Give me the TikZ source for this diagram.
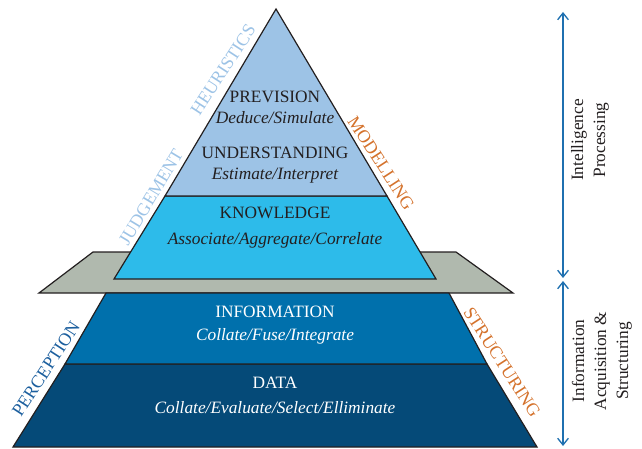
\documentclass[tikz,border=0pt]{standalone}
\usepackage{fontspec}
\setmainfont{Liberation Serif}
\usetikzlibrary{arrows.meta}
\definecolor{pvblue}{HTML}{9DC3E6}
\definecolor{knblue}{HTML}{2DBBEA}
\definecolor{inblue}{HTML}{0070AC}
\definecolor{dablue}{HTML}{054A78}
\definecolor{platgray}{HTML}{B0B9AE}
\definecolor{orangelbl}{HTML}{D4722C}
\definecolor{perblue}{HTML}{1C5F9E}
\definecolor{arrblue}{HTML}{1F70B0}
\definecolor{darktxt}{HTML}{231F20}
\tikzset{
  layer/.style={draw=darktxt, line width=0.9pt, line join=miter},
  title/.style={font=\fontsize{13}{15}\selectfont, inner sep=0pt},
  sub/.style={font=\fontsize{13}{15}\selectfont\itshape, inner sep=0pt},
  side/.style={font=\fontsize{13.5}{15}\selectfont, inner sep=0pt},
  vtext/.style={font=\fontsize{13}{16.5}\selectfont, align=center, rotate=90, inner sep=0pt},
  darrow/.style={draw=arrblue, line width=1pt, {Straight Barb[length=5pt,width=8pt]}-{Straight Barb[length=5pt,width=8pt]}}
}
\begin{document}
\begin{tikzpicture}[x=0.75pt, y=-0.75pt]
\useasboundingbox (0,0) rectangle (642,449);
% platform
\fill[platgray, draw=darktxt, line width=0.9pt] (39,293) -- (513,293) -- (456,252) -- (93,252) -- cycle;
% lower pyramid
\filldraw[dablue, layer] (65,364) -- (487,364) -- (537,447) -- (13,447) -- cycle;
\filldraw[inblue, layer] (106,293) -- (449,293) -- (487,364) -- (65,364) -- cycle;
% upper pyramid
\filldraw[knblue, layer] (165,196) -- (387,196) -- (436,279) -- (114,279) -- cycle;
\filldraw[pvblue, layer] (276,9) -- (387,196) -- (165,196) -- cycle;
% layer labels
\node[title, text=darktxt] (prev) at (275,97) {PREVISION};
\node[sub, text=darktxt] (prevs) at (275,118) {Deduce/Simulate};
\node[title, text=darktxt] (und) at (275,153) {UNDERSTANDING};
\node[sub, text=darktxt] (unds) at (275,176) {Estimate/Interpret};
\node[title, text=darktxt] (know) at (275,213) {KNOWLEDGE};
\node[sub, text=darktxt] (knows) at (275,240) {Associate/Aggregate/Correlate};
\node[title, text=white] (info) at (275,312) {INFORMATION};
\node[sub, text=white] (infos) at (275,336) {Collate/Fuse/Integrate};
\node[title, text=white] (data) at (275,383) {DATA};
\node[sub, text=white] (datas) at (275,408) {Collate/Evaluate/Select/Elliminate};
% side labels
\node[side, text=pvblue, rotate=57] (heur) at (223,70) {HEURISTICS};
\node[side, text=pvblue, rotate=59] (judg) at (151,197) {JUDGEMENT};
\node[side, text=orangelbl, rotate=-57] (mod) at (381,163) {MODELLING};
\node[side, text=perblue, rotate=57] (perc) at (46,369) {PERCEPTION};
\node[side, text=orangelbl, rotate=-57] (struc) at (502,362) {STRUCTURING};
% right arrows
\coordinate (a1) at (563,12);
\coordinate (a2) at (563,278);
\coordinate (b1) at (563,281);
\coordinate (b2) at (563,446);
\draw[darrow] (a1) -- (a2);
\draw[darrow] (b1) -- (b2);
\node[vtext, text=darktxt] (ip) at (590,140) {Intelligence\\Processing};
\node[vtext, text=darktxt] (ias) at (602,361) {Information\\Acquisition \&\\Structuring};
\end{tikzpicture}
\end{document}
